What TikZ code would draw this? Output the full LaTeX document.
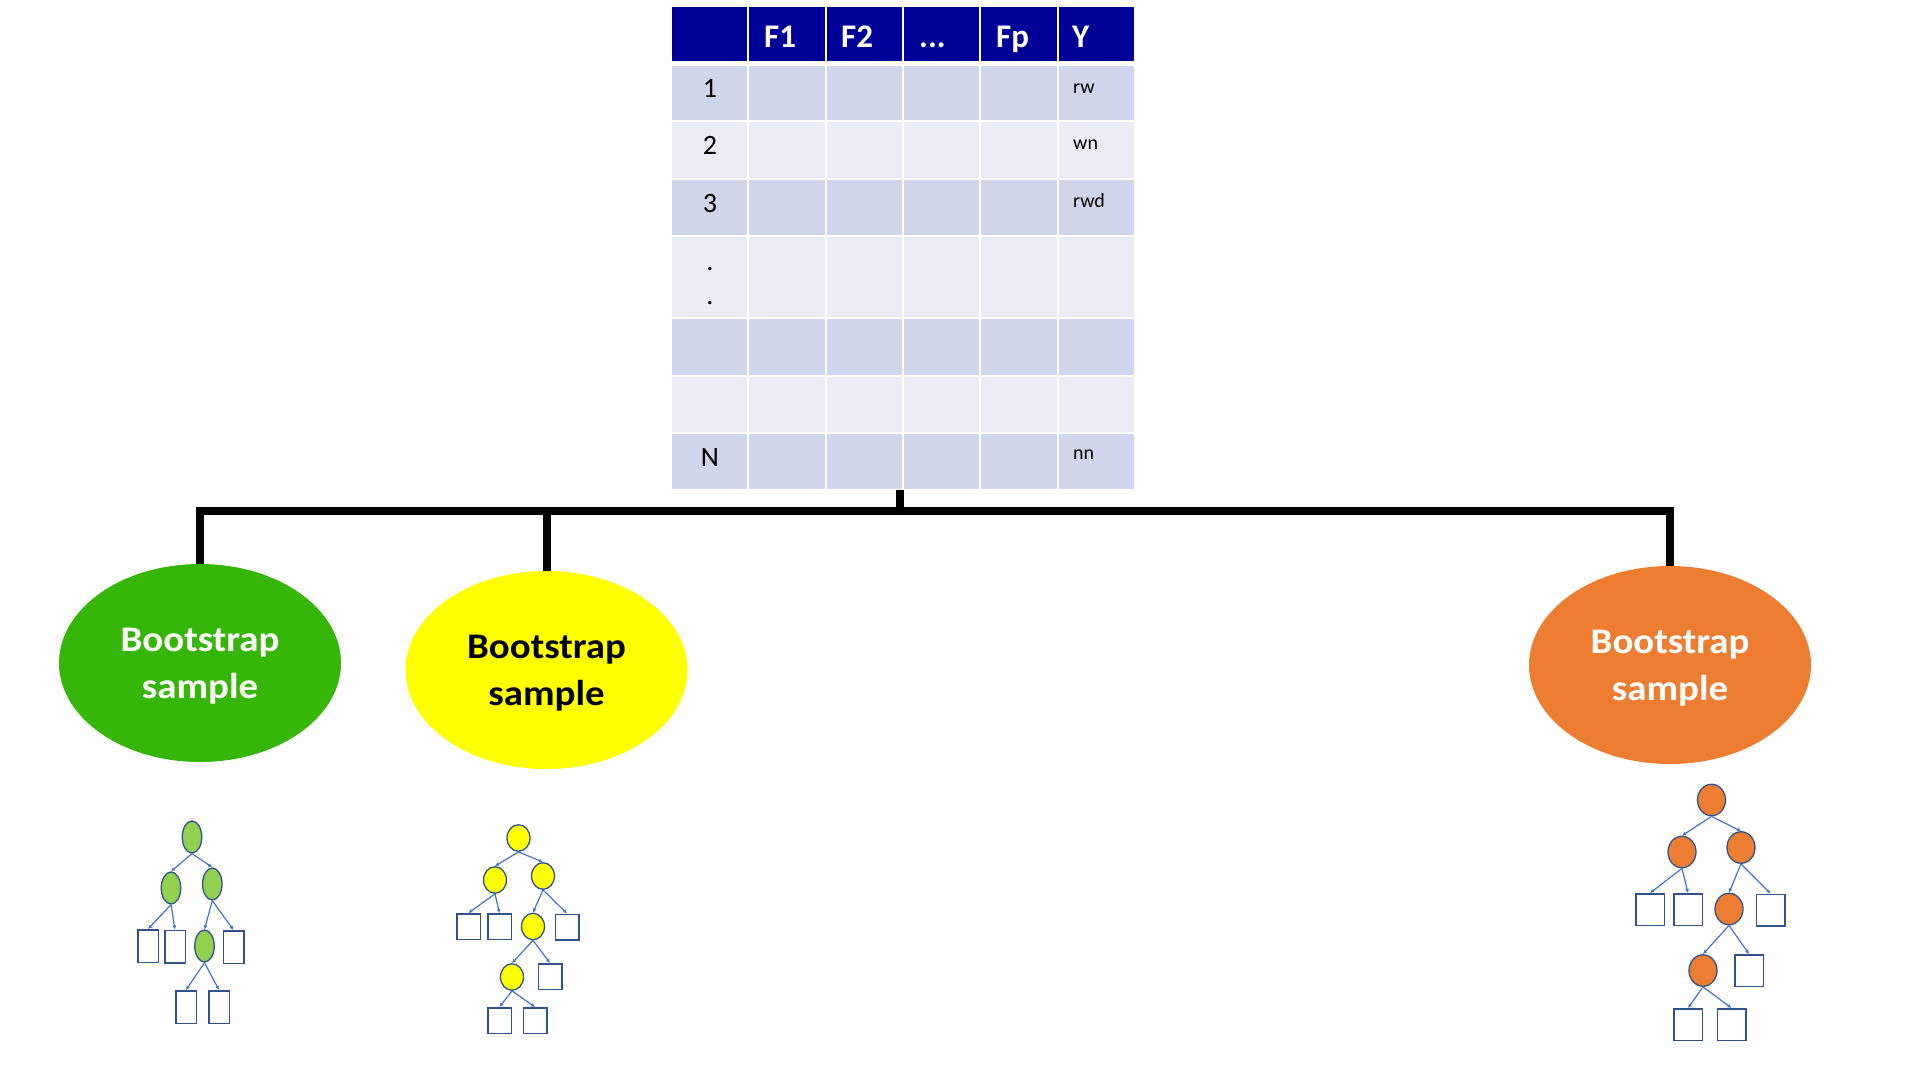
\documentclass[tikz,border=0pt]{standalone}
\usepackage{fontspec}
\setmainfont{Carlito}
\newfontfamily\bootfont[FakeStretch=1.08]{Carlito}
\usepackage{xcolor}
\usetikzlibrary{arrows.meta,shapes.geometric}
\definecolor{hdrblue}{RGB}{0,0,153}
\definecolor{rowdark}{RGB}{207,213,234}
\definecolor{rowlight}{RGB}{233,235,245}
\definecolor{bootgreen}{RGB}{54,182,8}
\definecolor{bootyellow}{RGB}{255,255,0}
\definecolor{bootorange}{RGB}{237,125,49}
\definecolor{leafgreen}{RGB}{146,208,80}
\definecolor{treeline}{RGB}{47,82,143}
\definecolor{treeedge}{RGB}{68,114,196}
\tikzset{
  colhead/.style={anchor=base west,inner sep=0pt,text=white,font=\fontsize{33}{40}\selectfont\bfseries},
  rowlab/.style={anchor=base,inner sep=0pt,font=\fontsize{28}{34}\selectfont},
  ylab/.style={anchor=base west,inner sep=0pt,font=\fontsize{20}{24}\selectfont},
  sample/.style={ellipse,inner sep=0pt,minimum width=282pt,minimum height=198pt,align=center,
    text depth=0pt,font=\bootfont\bfseries\fontsize{36}{47}\selectfont},
  bus/.style={line width=8pt,line join=miter,line cap=butt},
  treenode/.style={ellipse,draw=treeline,line width=1.3pt,inner sep=0pt},
  treeleaf/.style={rectangle,draw=treeline,line width=1.5pt,fill=white,inner sep=0pt},
  branch/.style={treeedge,line width=1.2pt,-{Latex[length=4pt,width=4pt]}}
}
\begin{document}
\begin{tikzpicture}[x=1pt,y=-1pt]
  \fill[white] (0,0) rectangle (1920,1080);
  \useasboundingbox (0,0) rectangle (1920,1080);
  % data table
  \foreach \top/\bot/\col in {7/61/hdrblue,66/120/rowdark,122/178/rowlight,180/235/rowdark,
      237/317/rowlight,319/375/rowdark,377/432/rowlight,434/489/rowdark}
    \fill[\col] (672,\top) rectangle (1134,\bot);
  \foreach \x in {748.2,825.7,903,980.3,1057.8}
    \draw[white,line width=2pt] (\x,5) -- (\x,491);
  \node[colhead] (hf1) at (764,47) {F1};
  \node[colhead] (hf2) at (841,47) {F2};
  \node[colhead] (hdots) at (919,47) {...};
  \node[colhead] (hfp) at (996,47) {Fp};
  \node[colhead] (hy) at (1072,47) {Y};
  \node[rowlab] (r1) at (710,97) {1};
  \node[rowlab] (r2) at (710,154) {2};
  \node[rowlab] (r3) at (710,212) {3};
  \node[rowlab] (rdots) at (710,270) {.};
  \node[rowlab] (rdots2) at (710,304) {.};
  \node[rowlab] (rn) at (710,466) {N};
  \node[ylab] (y1) at (1073,93) {rw};
  \node[ylab] (y2) at (1073,149) {wn};
  \node[ylab] (y3) at (1073,207) {rwd};
  \node[ylab] (yn) at (1073,459) {nn};
  \coordinate (tab) at (900,490);
  \coordinate (bar) at (900,511);

  % bootstrap samples
  \node[sample,fill=bootgreen,text=white] (s1) at (200,663) {Bootstrap\\sample};
  \node[sample,fill=bootyellow,text=black] (s2) at (546.5,670) {Bootstrap\\sample};
  \node[sample,fill=bootorange,text=white] (s3) at (1670,665) {Bootstrap\\sample};
  \draw[bus] (s1.north) |- (bar) -| (s3.north);
  \draw[bus] (s2.north) -- (s2.north |- bar);
  \draw[bus] (tab) -- (bar);

  % green tree
  \begin{scope}[treenode/.append style={fill=leafgreen,minimum width=19.5pt,minimum height=32pt},
      treeleaf/.append style={minimum width=20.5pt,minimum height=32.5pt}]
    \node[treenode] (g0) at (192,837) {};
    \node[treenode] (g1) at (171,888) {};
    \node[treenode] (g2) at (212.3,884) {};
    \node[treeleaf] (gl1) at (148,946) {};
    \node[treeleaf] (gl2) at (175,946.5) {};
    \node[treenode] (g3) at (204.5,946) {};
    \node[treeleaf] (gl4) at (233.5,947) {};
    \node[treeleaf] (gl5) at (186,1007) {};
    \node[treeleaf] (gl6) at (219,1007) {};
    \foreach \a/\b in {g0/g1,g0/g2,g1/gl1,g1/gl2,g2/g3,g2/gl4,g3/gl5,g3/gl6}
      \draw[branch] (\a.south) -- (\b.north);
  \end{scope}

  % yellow tree
  \begin{scope}[treenode/.append style={fill=bootyellow,minimum width=23pt,minimum height=26.5pt},
      treeleaf/.append style={minimum width=23.5pt,minimum height=25.5pt}]
    \node[treenode] (y0) at (518.5,838) {};
    \node[treenode] (y1) at (495,880) {};
    \node[treenode] (y2) at (543,876) {};
    \node[treeleaf] (yl1) at (468.5,926.5) {};
    \node[treeleaf] (yl2) at (499.5,926.5) {};
    \node[treenode] (y3) at (533,926.5) {};
    \node[treeleaf] (yl4) at (567,927) {};
    \node[treenode] (y4) at (512,977) {};
    \node[treeleaf] (yl5) at (550,976.5) {};
    \node[treeleaf] (yl6) at (499.5,1020.5) {};
    \node[treeleaf] (yl7) at (535,1020.5) {};
    \foreach \a/\b in {y0/y1,y0/y2,y1/yl1,y1/yl2,y2/y3,y2/yl4,y3/y4,y3/yl5,y4/yl6,y4/yl7}
      \draw[branch] (\a.south) -- (\b.north);
  \end{scope}

  % orange tree
  \begin{scope}[treenode/.append style={fill=bootorange,minimum width=28pt,minimum height=31.5pt},
      treeleaf/.append style={minimum width=28.5pt,minimum height=31.5pt}]
    \node[treenode] (o0) at (1711.5,800) {};
    \node[treenode] (o1) at (1682,852) {};
    \node[treenode] (o2) at (1741,847.5) {};
    \node[treeleaf] (ol1) at (1650,909.5) {};
    \node[treeleaf] (ol2) at (1688,909.5) {};
    \node[treenode] (o3) at (1729,909) {};
    \node[treeleaf] (ol4) at (1770.5,910) {};
    \node[treenode] (o4) at (1703,970.5) {};
    \node[treeleaf] (ol5) at (1749,970.5) {};
    \node[treeleaf] (ol6) at (1688,1024.5) {};
    \node[treeleaf] (ol7) at (1731.5,1024.5) {};
    \foreach \a/\b in {o0/o1,o0/o2,o1/ol1,o1/ol2,o2/o3,o2/ol4,o3/o4,o3/ol5,o4/ol6,o4/ol7}
      \draw[branch] (\a.south) -- (\b.north);
  \end{scope}
\end{tikzpicture}
\end{document}
